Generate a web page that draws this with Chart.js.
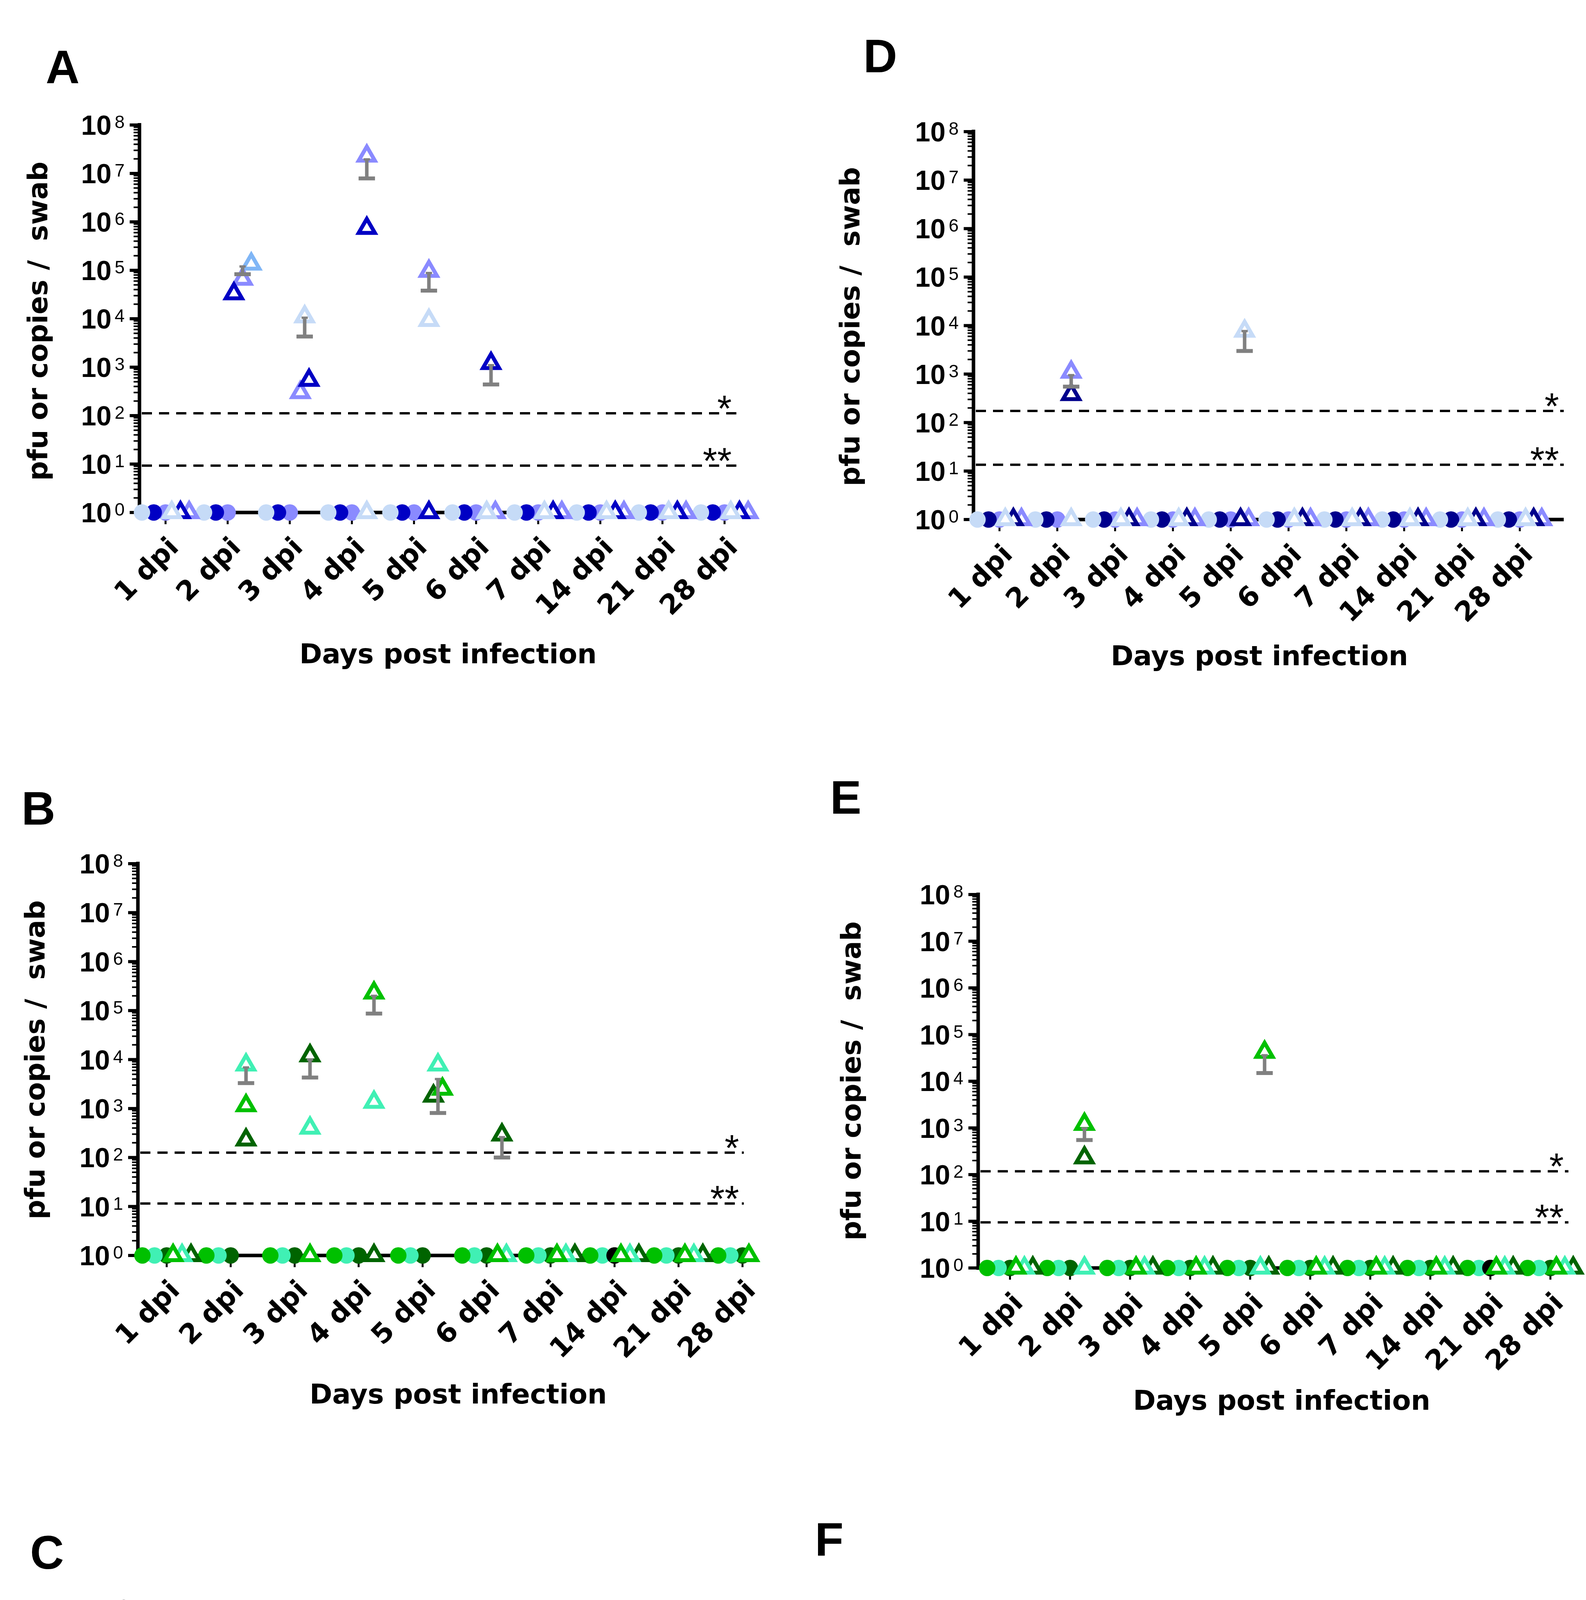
<!DOCTYPE html>
<html>
<head>
<meta charset="utf-8">
<title>Virus shedding swabs</title>
<script src="https://cdn.jsdelivr.net/npm/chart.js@4.4.1/dist/chart.umd.min.js"></script>
<style>
  html, body { margin: 0; padding: 0; background: #fff; }
  #page { position: relative; width: 4060px; height: 5571px; background: #fff; }
  #page canvas { position: absolute; }
  .letter { position: absolute; font-family: "Liberation Sans", Arial, sans-serif; font-weight: bold; font-size: 120px; line-height: 1; color: #000; }
</style>
</head>
<body>
<div id="page"></div>
<script>
// Jours de prélèvement (axe x)
const days = ['1 dpi', '2 dpi', '3 dpi', '4 dpi', '5 dpi', '6 dpi', '7 dpi', '14 dpi', '21 dpi', '28 dpi'];

// Cercles (pfu) : tous à la limite, tracés à 10^0
const pfuBelowLimit = [1, 1, 1, 1, 1, 1, 1, 1, 1, 1];

// Panneau A
const aTriPale = [1, null, 1.1e4, 1, 9.3e3, 1, 1, 1, 1, 1];
const aTriDark = [1, 3.3e4, 5.4e2, 7.4e5, 1, 1.2e3, 1, 1, 1, 1];
const aTriMed = [1, 6.6e4, 3.0e2, 2.3e7, 9.6e4, 1, 1, 1, 1, 1];
const aTriSky = [null, 1.35e5, null, null, null, null, null, null, null, null];
const aMean = [null, 1.2e5, 1.05e4, 1.95e7, 8.8e4, 1.1e3, null, null, null, null];
const aLow = [null, 8.3e4, 4.3e3, 7.9e6, 3.8e4, 4.4e2, null, null, null, null];
const aLimits = [112, 9.3];

// Panneau D
const dTriPale = [1, 1, 1, 1, 7.7e3, 1, 1, 1, 1, 1];
const dTriDark = [1, 3.8e2, 1, 1, 1, 1, 1, 1, 1, 1];
const dTriMed = [1, 1.1e3, 1, 1, 1, 1, 1, 1, 1, 1];
const dMean = [null, 9.5e2, null, null, 7.7e3, null, null, null, null, null];
const dLow = [null, 5.5e2, null, null, 3.0e3, null, null, null, null, null];
const dLimits = [174, 13.5];

// Panneau B
const bTriGreen = [1, 1.15e3, 1, 2.3e5, 2.5e3, 1, 1, 1, 1, 1];
const bTriAqua = [1, 7.8e3, 4.0e2, 1.35e3, 7.8e3, 1, 1, 1, 1, 1];
const bTriDark = [1, 2.3e2, 1.2e4, 1, 1.8e3, 2.9e2, 1, 1, 1, 1];
const bMock = [null, null, null, null, null, null, null, 1, null, null];
const bMean = [null, 6.9e3, 1.0e4, 2.0e5, 4.0e3, 2.6e2, null, null, null, null];
const bLow = [null, 3.3e3, 4.3e3, 8.7e4, 8.1e2, 1.0e2, null, null, null, null];
const bLimits = [126, 11.5];

// Panneau E
const eTriGreen = [1, 1.2e3, 1, 1, 4.2e4, 1, 1, 1, 1, 1];
const eTriAqua = [1, 1, 1, 1, 1, 1, 1, 1, 1, 1];
const eTriDark = [1, 2.3e2, 1, 1, 1, 1, 1, 1, 1, 1];
const eMock = [null, null, null, null, null, null, null, null, 1, null];
const eMean = [null, 9.8e2, null, null, 3.6e4, null, null, null, null, null];
const eLow = [null, 5.5e2, null, null, 1.5e4, null, null, null, null, null];
const eLimits = [118, 9.5];

// Panneau C
const cTriPink = [1, 8.8e4, 5.8e4, 1, 1, 1, 1, 1, 1, 1];
const cTriRed = [1, 5.0e4, 2.4e2, 1.0e3, 1.2e4, 1, 1, 1, 1, 1];
const cTriDark = [1, 3.2e4, 3.4e2, 6.3e2, 1, 3.3e3, 1, 1, 1, 1];
const cMock = [1, null, null, null, null, null, null, null, null, null];
const cMean = [null, 5.8e4, 5.4e4, 8.0e2, 1.0e4, 3.3e3, null, null, null, null];
const cLow = [null, 2.8e4, 2.2e4, 40, 4.4e3, 1.2e3, null, null, null, null];
const cLimits = [115, 11.8];

// Panneau F
const fTriPink = [1, 8.1e4, 1, 1, 1, 20, 1, 1, 1, 1];
const fTriRed = [1, 1, 1, 1, 1.26e4, 1, 1, 1, 1, 1];
const fTriDark = [1, 1, 1, 1, 1, 1, 1, 1, 1, 1];
const fMock = [1, null, null, null, null, null, null, null, null, null];
const fMean = [null, 7.0e4, null, null, 1.1e4, 18, null, null, null, null];
const fLow = [null, 3.2e4, null, null, 4.7e3, 7.6, null, null, null, null];
const fLimits = [155, 14];

// Couleurs
const BLUE = { pale: '#c6dbf7', dark: '#0000c4', navy: '#00008c', medium: '#8a8aff', sky: '#80b6f6' };
const GREEN = { dark: '#006400', green: '#00c000', aqua: '#40f0b4' };
const RED = { pink: '#ffa3a3', red: '#f23c48', dark: '#a50000' };
const MOCK = '#000000';
const ERR = '#808080';

const SANS = '"Liberation Sans", Arial, sans-serif';
const WIDE = '"DejaVu Sans", Verdana, sans-serif';

// Décalages dans chaque groupe de jour
const CIRCLE_SLOTS = [-0.38, -0.19, 0];
const TRI_CENTER = 0.24;
const TRI_STEP = 0.14;
const TRI_GAP = 0.45;

const panels = [
    { letter: 'A', letterAt: [117, 213], box: [0, 0, 2030, 1860], area: [357, 320, 1885, 1312], xRange: [-0.42, 9.19],
      circleColors: [BLUE.pale, BLUE.dark, BLUE.medium], mock: null,
      triColors: [BLUE.pale, BLUE.dark, BLUE.medium, BLUE.sky], tris: [aTriPale, aTriDark, aTriMed, aTriSky],
      mean: aMean, low: aLow, limits: aLimits, xTitle: [1147, 1680], yTitle: [103, 822] },
    { letter: 'D', letterAt: [2210, 185], box: [2030, 0, 2030, 1860], area: [2492, 337, 4003, 1330], xRange: [-0.45, 9.76],
      circleColors: [BLUE.pale, BLUE.navy, BLUE.medium], mock: null,
      triColors: [BLUE.pale, BLUE.navy, BLUE.medium], tris: [dTriPale, dTriDark, dTriMed],
      mean: dMean, low: dLow, limits: dLimits, xTitle: [3224, 1685], yTitle: [2182, 836] },
    { letter: 'B', letterAt: [55, 2111], box: [0, 1860, 2030, 1860], area: [353, 2211, 1904, 3214], xRange: [-0.45, 9.02],
      circleColors: [GREEN.green, GREEN.aqua, GREEN.dark], mock: { slot: 2, data: bMock },
      triColors: [GREEN.green, GREEN.aqua, GREEN.dark], tris: [bTriGreen, bTriAqua, bTriDark],
      mean: bMean, low: bLow, limits: bLimits, xTitle: [1173, 3575], yTitle: [96, 2713] },
    { letter: 'E', letterAt: [2125, 2083], box: [2030, 1860, 2030, 1860], area: [2504, 2290, 4015, 3246], xRange: [-0.53, 9.3],
      circleColors: [GREEN.green, GREEN.aqua, GREEN.dark], mock: { slot: 2, data: eMock },
      triColors: [GREEN.green, GREEN.aqua, GREEN.dark], tris: [eTriGreen, eTriAqua, eTriDark],
      mean: eMean, low: eLow, limits: eLimits, xTitle: [3281, 3591], yTitle: [2185, 2767] },
    { letter: 'C', letterAt: [77, 4016], box: [0, 3720, 2030, 1851], area: [408, 4120, 1827, 5117], xRange: [-0.49, 9.23],
      circleColors: [RED.pink, RED.red, RED.dark], mock: { slot: 0, data: cMock },
      triColors: [RED.pink, RED.red, RED.dark], tris: [cTriPink, cTriRed, cTriDark],
      mean: cMean, low: cLow, limits: cLimits, xTitle: [1141, 5480], yTitle: [179, 4623] },
    { letter: 'F', letterAt: [2086, 3982], box: [2030, 3720, 2030, 1851], area: [2395, 4190, 3826, 5147], xRange: [-0.5, 9.53],
      circleColors: [RED.pink, RED.red, RED.dark], mock: { slot: 1, data: fMock },
      triColors: [RED.pink, RED.red, RED.dark], tris: [fTriPink, fTriRed, fTriDark],
      mean: fMean, low: fLow, limits: fLimits, xTitle: [3107, 5497], yTitle: [2179, 4667] }
];

/**
 * Répartit horizontalement les triangles proches (comme un nuage de points groupé)
 */
function spreadTriangles(seriesList) {
    const out = seriesList.map(() => []);
    days.forEach((_, d) => {
        const items = [];
        seriesList.forEach((vals, s) => {
            if (vals[d] != null) items.push({ s: s, v: Math.log10(vals[d]) });
        });
        items.sort((a, b) => (a.v - b.v) || (a.s - b.s));
        let i = 0;
        while (i < items.length) {
            let j = i;
            while (j + 1 < items.length && items[j + 1].v - items[j].v < TRI_GAP) j++;
            const n = j - i + 1;
            for (let k = 0; k < n; k++) {
                const it = items[i + k];
                out[it.s].push({ x: d + TRI_CENTER + (k - (n - 1) / 2) * TRI_STEP, y: seriesList[it.s][d] });
            }
            i = j + 1;
        }
    });
    return out;
}

function circlePoints(vals, slot) {
    const pts = [];
    vals.forEach((v, d) => { if (v != null) pts.push({ x: d + CIRCLE_SLOTS[slot], y: v }); });
    return pts;
}

function seg(ctx, x1, y1, x2, y2) {
    ctx.beginPath();
    ctx.moveTo(x1, y1);
    ctx.lineTo(x2, y2);
    ctx.stroke();
}

/**
 * Axes, seuils, barres d'erreur et textes du panneau
 */
function makeDecor(p) {
    const ox = p.box[0], oy = p.box[1];
    return {
        id: 'decor' + p.letter,
        beforeDatasetsDraw(chart) {
            const { ctx, chartArea: a } = chart;
            const x = chart.scales.x, y = chart.scales.y;
            ctx.save();
            ctx.strokeStyle = '#000';
            // lignes de seuil pointillées
            ctx.lineWidth = 6;
            ctx.setLineDash([26, 18]);
            p.limits.forEach(v => {
                const py = y.getPixelForValue(v);
                seg(ctx, a.left + 6, py, a.right, py);
            });
            ctx.setLineDash([]);
            // graduations x
            ctx.lineWidth = 5;
            days.forEach((_, i) => {
                const px = x.getPixelForValue(i);
                seg(ctx, px, a.bottom, px, a.bottom + 30);
            });
            // axes
            ctx.lineWidth = 9;
            seg(ctx, a.left - 4.5, a.bottom, a.right, a.bottom);
            seg(ctx, a.left, a.top - 5, a.left, a.bottom + 4.5);
            // graduations y (majeures et mineures)
            for (let k = 0; k <= 8; k++) {
                const py = y.getPixelForValue(Math.pow(10, k));
                ctx.lineWidth = 8;
                seg(ctx, a.left - 25, py, a.left, py);
                if (k < 8) {
                    ctx.lineWidth = 4;
                    for (let m = 2; m <= 9; m++) {
                        const pm = y.getPixelForValue(m * Math.pow(10, k));
                        seg(ctx, a.left - 15, pm, a.left, pm);
                    }
                }
            }
            ctx.restore();
        },
        afterDatasetsDraw(chart) {
            const { ctx } = chart;
            const x = chart.scales.x, y = chart.scales.y;
            ctx.save();
            ctx.strokeStyle = ERR;
            p.mean.forEach((m, i) => {
                if (m == null) return;
                const px = x.getPixelForValue(i + TRI_CENTER);
                const ym = y.getPixelForValue(m);
                const yl = y.getPixelForValue(p.low[i]);
                ctx.lineWidth = 9;
                seg(ctx, px, ym, px, yl);
                ctx.lineWidth = 10;
                seg(ctx, px - 21, yl, px + 21, yl);
                ctx.lineWidth = 6;
                seg(ctx, px - 8, ym, px + 8, ym);
            });
            ctx.restore();
        },
        afterDraw(chart) {
            const { ctx, chartArea: a } = chart;
            const x = chart.scales.x, y = chart.scales.y;
            ctx.save();
            ctx.fillStyle = '#000';
            // étiquettes 10^n
            ctx.textAlign = 'right';
            ctx.textBaseline = 'alphabetic';
            for (let k = 0; k <= 8; k++) {
                const py = y.getPixelForValue(Math.pow(10, k));
                const rx = a.left - 38;
                ctx.font = '46px ' + SANS;
                const sup = String(k);
                const sw = ctx.measureText(sup).width;
                ctx.fillText(sup, rx, py + 8);
                ctx.font = 'bold 70px ' + SANS;
                ctx.fillText('10', rx - sw - 8, py + 25);
            }
            // étiquettes des jours, inclinées
            ctx.font = 'bold 70px ' + WIDE;
            days.forEach((d, i) => {
                ctx.save();
                ctx.translate(x.getPixelForValue(i) + 24, a.bottom + 80);
                ctx.rotate(-Math.PI / 4);
                ctx.textAlign = 'right';
                ctx.textBaseline = 'middle';
                ctx.fillText(d, 0, 0);
                ctx.restore();
            });
            // astérisques des seuils
            ctx.font = '95px ' + SANS;
            ctx.textAlign = 'right';
            ctx.textBaseline = 'alphabetic';
            p.limits.forEach((v, i) => {
                const py = y.getPixelForValue(v);
                ctx.fillText(i === 0 ? '*' : '**', a.right - 12, py + 20);
            });
            // titres des axes
            ctx.font = 'bold 70px ' + WIDE;
            ctx.textAlign = 'center';
            ctx.textBaseline = 'middle';
            ctx.fillText('Days post infection', p.xTitle[0] - ox, p.xTitle[1] - oy);
            ctx.save();
            ctx.translate(p.yTitle[0] - ox, p.yTitle[1] - oy);
            ctx.rotate(-Math.PI / 2);
            ctx.fillText('pfu or copies /  swab', 0, 0);
            ctx.restore();
            ctx.restore();
        }
    };
}

function buildPanel(p) {
    const page = document.getElementById('page');

    const letter = document.createElement('div');
    letter.className = 'letter';
    letter.textContent = p.letter;
    letter.style.left = p.letterAt[0] + 'px';
    letter.style.top = (p.letterAt[1] - 102) + 'px';
    page.appendChild(letter);

    const canvas = document.createElement('canvas');
    canvas.width = p.box[2];
    canvas.height = p.box[3];
    canvas.style.left = p.box[0] + 'px';
    canvas.style.top = p.box[1] + 'px';
    page.appendChild(canvas);

    const datasets = [];
    // triangles (copies) au-dessus
    const triPts = spreadTriangles(p.tris);
    triPts.forEach((pts, s) => {
        datasets.push({
            data: pts,
            pointStyle: 'triangle',
            pointRadius: 24,
            pointBorderWidth: 10,
            pointBorderColor: p.triColors[s],
            pointBackgroundColor: '#ffffff',
            clip: false
        });
    });
    // animal témoin en noir
    if (p.mock) {
        datasets.push({
            data: circlePoints(p.mock.data, p.mock.slot),
            pointStyle: 'circle',
            pointRadius: 21,
            pointBorderWidth: 0,
            pointBackgroundColor: MOCK,
            clip: false
        });
    }
    // cercles (pfu)
    p.circleColors.forEach((col, s) => {
        datasets.push({
            data: circlePoints(pfuBelowLimit, s),
            pointStyle: 'circle',
            pointRadius: 21,
            pointBorderWidth: 0,
            pointBackgroundColor: col,
            clip: false
        });
    });

    new Chart(canvas.getContext('2d'), {
        type: 'scatter',
        data: { datasets: datasets },
        options: {
            responsive: false,
            animation: false,
            devicePixelRatio: 1,
            events: [],
            layout: {
                padding: {
                    left: p.area[0] - p.box[0],
                    top: p.area[1] - p.box[1],
                    right: p.box[0] + p.box[2] - p.area[2],
                    bottom: p.box[1] + p.box[3] - p.area[3]
                }
            },
            plugins: {
                legend: { display: false },
                tooltip: { enabled: false }
            },
            scales: {
                x: { type: 'linear', min: p.xRange[0], max: p.xRange[1], display: false },
                y: { type: 'logarithmic', min: 1, max: 1e8, display: false }
            }
        },
        plugins: [makeDecor(p)]
    });
}

panels.forEach(buildPanel);
</script>
</body>
</html>
